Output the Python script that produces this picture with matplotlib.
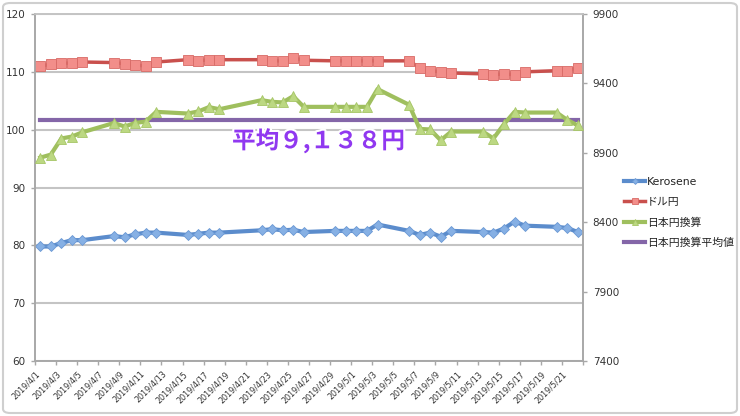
import datetime as dt
import numpy as np
import matplotlib
matplotlib.use("Agg")
import matplotlib.pyplot as plt
from matplotlib.patches import FancyBboxPatch
import matplotlib.patheffects as pe

plt.rcParams['font.family'] = ['DejaVu Sans', 'Noto Sans CJK JP']

dates = ["2019/4/1", "2019/4/2", "2019/4/3", "2019/4/4", "2019/4/5",
         "2019/4/8", "2019/4/9", "2019/4/10", "2019/4/11", "2019/4/12",
         "2019/4/15", "2019/4/16", "2019/4/17", "2019/4/18",
         "2019/4/22", "2019/4/23", "2019/4/24", "2019/4/25", "2019/4/26",
         "2019/4/29", "2019/4/30", "2019/5/1", "2019/5/2", "2019/5/3",
         "2019/5/6", "2019/5/7", "2019/5/8", "2019/5/9", "2019/5/10",
         "2019/5/13", "2019/5/14", "2019/5/15", "2019/5/16", "2019/5/17",
         "2019/5/20", "2019/5/21", "2019/5/22"]

kerosene = [79.8, 79.8, 80.4, 80.9, 80.9,
            81.6, 81.4, 81.9, 82.2, 82.2,
            81.8, 82.0, 82.2, 82.2,
            82.6, 82.8, 82.6, 82.7, 82.3,
            82.5, 82.5, 82.5, 82.5, 83.6,
            82.5, 81.8, 82.2, 81.5, 82.5,
            82.3, 82.2, 82.9, 84.1, 83.4,
            83.2, 83.0, 82.3]

usd_jpy = [111.0, 111.3, 111.5, 111.5, 111.7,
           111.6, 111.4, 111.2, 111.0, 111.7,
           112.1, 111.9, 112.1, 112.1,
           112.1, 111.9, 111.9, 112.4, 112.0,
           111.9, 111.9, 111.9, 111.9, 111.9,
           111.9, 110.7, 110.2, 110.0, 109.8,
           109.65, 109.5, 109.65, 109.5, 110.0,
           110.2, 110.2, 110.7]

jpy = [8865, 8887, 9003, 9017, 9048,
       9115, 9089, 9115, 9125, 9195,
       9183, 9198, 9229, 9214,
       9279, 9267, 9263, 9308, 9231,
       9231, 9231, 9231, 9231, 9359,
       9246, 9072, 9068, 8990, 9053,
       9053, 9003, 9106, 9195, 9190,
       9190, 9137, 9097]

jpy_avg = 9138

left_ticks = [60, 70, 80, 90, 100, 110, 120]
right_ticks = [7400, 7900, 8400, 8900, 9400, 9900]

start = dt.date(2019, 4, 1)
def day_of(s):
    y, m, d = map(int, s.split("/"))
    return (dt.date(y, m, d) - start).days

x = np.array([day_of(s) for s in dates]) + 0.5

fig = plt.figure(figsize=(7.4, 4.16), dpi=100)
W, H = 740, 416
ax = fig.add_axes([35 / W, 1 - 361 / H, (583 - 35) / W, (361 - 14) / H])
ax2 = ax.twinx()

grid_c = '#c4c4c4'
ax.set_ylim(60, 120)
ax.set_yticks(left_ticks)
ax.yaxis.grid(True, color=grid_c, linewidth=1.5)
ax.set_axisbelow(True)
ax2.set_ylim(7400, 9900)
ax2.set_yticks(right_ticks)

# x axis
ax.set_xlim(0, 52)
tick_days = list(range(0, 53, 2))
labels = []
for d in tick_days:
    dd = start + dt.timedelta(days=d)
    labels.append(f"{dd.year}/{dd.month}/{dd.day}" if d <= 50 else "")
ax.set_xticks(tick_days)
ax.set_xticklabels(labels, rotation=45, ha='right', rotation_mode='anchor', fontsize=5.8, color='#333333')

for a in (ax, ax2):
    for s in a.spines.values():
        s.set_color('#a8a8a8')
        s.set_linewidth(1.2)
    a.spines['top'].set_color(grid_c)
    a.tick_params(colors='#a8a8a8', length=3, width=1, labelcolor='#333333')
ax.tick_params(axis='y', labelsize=7.5, pad=4)
ax2.tick_params(axis='y', labelsize=7.5, pad=4)
ax.tick_params(axis='x', pad=3)

# series
l1, = ax.plot(x, kerosene, color='#5b8ccc', linewidth=3, marker='D', markersize=5,
              markerfacecolor='#86b0e4', markeredgecolor='#6a98d4', markeredgewidth=0.6,
              label='Kerosene', zorder=3)
l2, = ax.plot(x, usd_jpy, color='#c9504d', linewidth=2.5, marker='s', markersize=6.8,
              markerfacecolor='#f28e8a', markeredgecolor='#d86a66', markeredgewidth=0.6,
              label='ドル円', zorder=3)
l4, = ax2.plot([x[0], x[-1]], [jpy_avg, jpy_avg], color='#8466a8', linewidth=3,
               label='日本円換算平均値', zorder=2)
l3, = ax2.plot(x, jpy, color='#9fbf5e', linewidth=3, marker='^', markersize=7,
               markerfacecolor='#bcd882', markeredgecolor='#a6c566', markeredgewidth=0.6,
               label='日本円換算', zorder=3)

ax2.text(232, H - 141, '平均９,１３８円', transform=None, fontsize=17, fontweight='bold',
         color='#9038f0', va='center', ha='left', family=['Noto Sans CJK JP'],
         path_effects=[pe.withStroke(linewidth=3, foreground='white')], zorder=5)

leg = fig.legend(handles=[l1, l2, l3, l4], loc='upper left',
                 bbox_to_anchor=(614 / W, 1 - 167 / H), frameon=False,
                 fontsize=7.8, labelspacing=0.95, handlelength=2.0, handletextpad=0.15,
                 markerscale=0.6)
for t in leg.get_texts():
    t.set_color('#222222')

border = FancyBboxPatch((3 / W, 3 / H), (W - 6) / W, (H - 6) / H,
                        boxstyle='round,pad=0,rounding_size=0.01',
                        transform=fig.transFigure, facecolor='none',
                        edgecolor='#cfcfcf', linewidth=1.5)
fig.patches.append(border)

fig.savefig('out.png', dpi=100)
